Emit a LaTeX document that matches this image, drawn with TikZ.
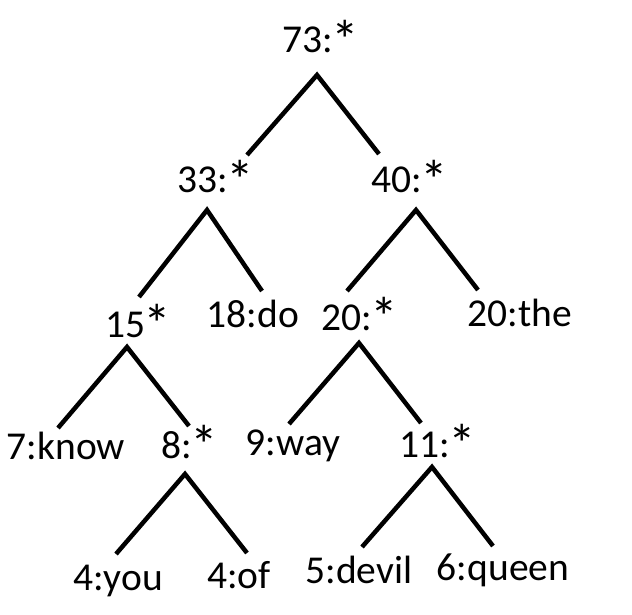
\documentclass[tikz,border=0pt]{standalone}
\usepackage{fontspec}
\setmainfont{Carlito}
\newcommand{\myast}{\kern-0.04em\raisebox{-0.17em}{\scalebox{1.4}{*}}}
\begin{document}
\begin{tikzpicture}[x=1pt,y=-1pt,
  lbl/.style={anchor=base,inner sep=0pt,font=\fontsize{39.5}{41}\selectfont},
  edge/.style={line width=4.5pt,line cap=butt,line join=miter}]
\useasboundingbox (0,0) rectangle (632,615);
% labels
\node[lbl] (n73) at (321,53) {73:\myast};
\node[lbl] (n33) at (216,193) {33:\myast};
\node[lbl] (n40) at (410,193) {40:\myast};
\node[lbl] (n15) at (138,337) {15\myast};
\node[lbl] (n18) at (253,327) {18:do};
\node[lbl] (n20) at (360,330) {20:\myast};
\node[lbl] (nthe) at (520,326) {20:the};
\node[lbl] (nknow) at (66,459) {7:know};
\node[lbl] (n8) at (190,458) {8:\myast};
\node[lbl] (nway) at (293,455) {9:way};
\node[lbl] (n11) at (438,457) {11:\myast};
\node[lbl] (nyou) at (118,590) {4:you};
\node[lbl] (nof) at (239,588) {4:of};
\node[lbl] (ndevil) at (359,583) {5:devil};
\node[lbl] (nqueen) at (503,580) {6:queen};
% connector points
\coordinate (a73) at (317,75);
\coordinate (t33) at (247,155);
\coordinate (t40) at (379,154);
\coordinate (a33) at (207,210);
\coordinate (t15) at (139,297);
\coordinate (t18) at (262,291);
\coordinate (a40) at (416,210);
\coordinate (t20) at (347,291);
\coordinate (tthe) at (478,290);
\coordinate (a15) at (127,347);
\coordinate (tknow) at (58,428);
\coordinate (t8) at (189,426);
\coordinate (a20) at (359,343);
\coordinate (tway) at (289,424);
\coordinate (t11) at (421,423);
\coordinate (a8) at (185,474);
\coordinate (tyou) at (116,554);
\coordinate (tof) at (247,553);
\coordinate (a11) at (432,467);
\coordinate (tdevil) at (362,547);
\coordinate (tqueen) at (493,546);
% connectors
\draw[edge] (t33) -- (a73) -- (t40);
\draw[edge] (t15) -- (a33) -- (t18);
\draw[edge] (t20) -- (a40) -- (tthe);
\draw[edge] (tknow) -- (a15) -- (t8);
\draw[edge] (tway) -- (a20) -- (t11);
\draw[edge] (tyou) -- (a8) -- (tof);
\draw[edge] (tdevil) -- (a11) -- (tqueen);
\end{tikzpicture}
\end{document}
